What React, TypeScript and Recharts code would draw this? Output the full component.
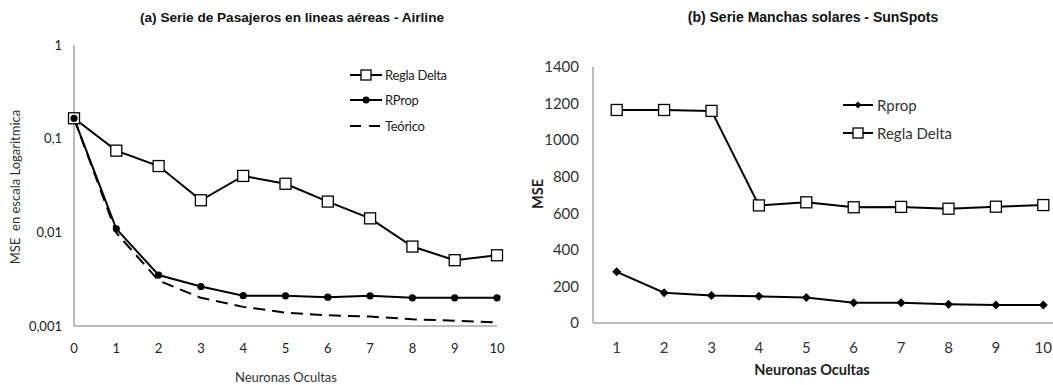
import React from 'react';
import { LineChart, Line, XAxis, YAxis, Legend } from 'recharts';

// ---- Chart (a): Airline (log scale) ----
const neuronsA = [0, 1, 2, 3, 4, 5, 6, 7, 8, 9, 10];
const reglaDeltaA = [0.165, 0.0745, 0.051, 0.022, 0.04, 0.033, 0.0213, 0.0141, 0.00705, 0.00504, 0.00569];
const rpropA = [0.165, 0.0109, 0.0035, 0.00264, 0.00211, 0.0021, 0.00203, 0.0021, 0.002, 0.002, 0.002];
const teoricoA = [0.165, 0.0099, 0.00305, 0.002, 0.0016, 0.00139, 0.0013, 0.00126, 0.00118, 0.00114, 0.00109];
const yTicksA = [0.001, 0.01, 0.1, 1];

// ---- Chart (b): SunSpots ----
const neuronsB = [1, 2, 3, 4, 5, 6, 7, 8, 9, 10];
const rpropB = [280, 166, 151, 146, 139, 111, 111, 102, 98, 98];
const reglaDeltaB = [1165, 1165, 1160, 643, 660, 633, 635, 625, 636, 645];
const yTicksB = [0, 200, 400, 600, 800, 1000, 1200, 1400];

const dataA = neuronsA.map((x, i) => ({ x, delta: reglaDeltaA[i], rprop: rpropA[i], teo: teoricoA[i] }));
const dataB = neuronsB.map((x, i) => ({ x, rprop: rpropB[i], delta: reglaDeltaB[i] }));

const makeSquare = (size: number) => (props: any) => {
  const { cx, cy, index } = props;
  if (cx == null || cy == null) return <g key={`s${index}`} />;
  return (
    <rect key={`s${index}`} x={cx - size / 2} y={cy - size / 2} width={size} height={size}
      fill="#fff" stroke="#000" strokeWidth={1.3} />
  );
};
const makeCircle = (r: number) => (props: any) => {
  const { cx, cy, index } = props;
  if (cx == null || cy == null) return <g key={`c${index}`} />;
  return <circle key={`c${index}`} cx={cx} cy={cy} r={r} fill="#000" />;
};
const makeDiamond = (r: number) => (props: any) => {
  const { cx, cy, index } = props;
  if (cx == null || cy == null) return <g key={`d${index}`} />;
  return <polygon key={`d${index}`} points={`${cx},${cy - r} ${cx + r},${cy} ${cx},${cy + r} ${cx - r},${cy}`} fill="#000" />;
};

const legendA = () => (
  <div style={{ fontFamily: 'Lato', fontSize: 13, color: '#222' }}>
    {[
      { name: 'Regla Delta', kind: 'square' },
      { name: 'RProp', kind: 'circle' },
      { name: 'Teórico', kind: 'dash' },
    ].map((it) => (
      <div key={it.name} style={{ display: 'flex', alignItems: 'center', height: 25.5 }}>
        <svg width={35} height={14} style={{ display: 'block' }}>
          {it.kind === 'dash' ? (
            <line x1={0} y1={7} x2={32} y2={7} stroke="#000" strokeWidth={2} strokeDasharray="11 8" />
          ) : (
            <line x1={0} y1={7} x2={32} y2={7} stroke="#000" strokeWidth={2} />
          )}
          {it.kind === 'square' && <rect x={11} y={2} width={10} height={10} fill="#fff" stroke="#000" strokeWidth={1.3} />}
          {it.kind === 'circle' && <circle cx={16} cy={7} r={3.5} fill="#000" />}
        </svg>
        <span style={{ letterSpacing: -0.3 }}>{it.name}</span>
      </div>
    ))}
  </div>
);

const legendB = () => (
  <div style={{ fontFamily: 'Lato', fontSize: 15, color: '#333' }}>
    {[
      { name: 'Rprop', kind: 'diamond' },
      { name: 'Regla Delta', kind: 'square' },
    ].map((it) => (
      <div key={it.name} style={{ display: 'flex', alignItems: 'center', height: 28 }}>
        <svg width={34} height={14} style={{ display: 'block' }}>
          <line x1={0} y1={7} x2={30} y2={7} stroke="#000" strokeWidth={2} />
          {it.kind === 'square' && <rect x={10} y={2} width={10} height={10} fill="#fff" stroke="#000" strokeWidth={1.3} />}
          {it.kind === 'diamond' && <polygon points="15,3.5 18.5,7 15,10.5 11.5,7" fill="#000" />}
        </svg>
        <span>{it.name}</span>
      </div>
    ))}
  </div>
);

const abs = (extra: React.CSSProperties): React.CSSProperties => ({ position: 'absolute', whiteSpace: 'nowrap', ...extra });

export default function App() {
  return (
    <div style={{ position: 'absolute', left: 0, top: 0, width: 1053, height: 385, overflow: 'hidden', background: '#fff', fontFamily: 'Lato' }}>
      {/* Chart (a) */}
      <div style={abs({ left: 0, top: 0 })}>
        <LineChart width={530} height={385} data={dataA} margin={{ top: 45, right: 33, left: 14, bottom: 29 }}>
          <XAxis dataKey="x" type="number" domain={[0, 10]} ticks={neuronsA} height={30}
            axisLine={{ stroke: '#a6a6a6', strokeWidth: 1.5 }} tickLine={false} tickMargin={12}
            tick={{ fill: '#222', fontSize: 13, fontFamily: 'Lato' }} />
          <YAxis type="number" scale="log" domain={[0.001, 1]} ticks={yTicksA} width={60} allowDataOverflow
            axisLine={{ stroke: '#a6a6a6', strokeWidth: 1.5 }} tickLine={false} tickMargin={6}
            tickFormatter={(v: number) => String(v).replace('.', ',')}
            tick={{ fill: '#222', fontSize: 13, fontFamily: 'Lato' }} />
          <Legend layout="vertical" align="center" verticalAlign="middle" content={legendA}
            wrapperStyle={{ left: 350, top: 62, width: 'auto' }} />
          <Line dataKey="delta" name="Regla Delta" stroke="#000" strokeWidth={2} dot={makeSquare(11)} activeDot={false} isAnimationActive={false} />
          <Line dataKey="teo" name="Teórico" stroke="#000" strokeWidth={2} strokeDasharray="12 7" dot={false} activeDot={false} isAnimationActive={false} />
          <Line dataKey="rprop" name="RProp" stroke="#000" strokeWidth={2} dot={makeCircle(3.6)} activeDot={false} isAnimationActive={false} />
        </LineChart>
      </div>
      <div style={abs({ left: 292, top: 17, transform: 'translate(-50%,-50%)', fontFamily: 'Liberation Sans', fontWeight: 'bold', fontSize: 13.6, color: '#111' })}>
        (a) Serie de Pasajeros en lineas aéreas - Airline
      </div>
      <div style={abs({ left: 286, top: 377, transform: 'translate(-50%,-50%)', fontSize: 13, color: '#333' })}>
        Neuronas Ocultas
      </div>
      <div style={abs({ left: 15, top: 187, transform: 'translate(-50%,-50%) rotate(-90deg)', fontSize: 13, color: '#333' })}>
        MSE&nbsp; en escala Logaritmica
      </div>

      {/* Chart (b) */}
      <div style={abs({ left: 530, top: 0 })}>
        <LineChart width={560} height={385} data={dataB} margin={{ top: 67, right: 23, left: 3, bottom: 32 }}>
          <XAxis dataKey="x" type="number" domain={[0.5, 10.5]} ticks={neuronsB} height={30}
            axisLine={{ stroke: '#a6a6a6', strokeWidth: 1.5 }} tickLine={false} tickMargin={13}
            tick={{ fill: '#333', fontSize: 15, fontFamily: 'Lato' }} />
          <YAxis type="number" domain={[0, 1400]} ticks={yTicksB} width={60}
            axisLine={{ stroke: '#a6a6a6', strokeWidth: 1.5 }} tickLine={false} tickMargin={8}
            tick={{ fill: '#333', fontSize: 15, fontFamily: 'Lato' }} />
          <Legend layout="vertical" align="center" verticalAlign="middle" content={legendB}
            wrapperStyle={{ left: 313, top: 91, width: 'auto' }} />
          <Line dataKey="delta" name="Regla Delta" stroke="#000" strokeWidth={2} dot={makeSquare(11)} activeDot={false} isAnimationActive={false} />
          <Line dataKey="rprop" name="Rprop" stroke="#000" strokeWidth={2} dot={makeDiamond(4.5)} activeDot={false} isAnimationActive={false} />
        </LineChart>
      </div>
      <div style={abs({ left: 813, top: 17, transform: 'translate(-50%,-50%)', fontFamily: 'Liberation Sans', fontWeight: 'bold', fontSize: 14, color: '#111' })}>
        (b) Serie Manchas solares - SunSpots
      </div>
      <div style={abs({ left: 812, top: 369, transform: 'translate(-50%,-50%)', fontSize: 14.5, fontWeight: 'bold', color: '#222' })}>
        Neuronas Ocultas
      </div>
      <div style={abs({ left: 537, top: 194, transform: 'translate(-50%,-50%) rotate(-90deg)', fontSize: 14.5, fontWeight: 'bold', color: '#222' })}>
        MSE
      </div>
    </div>
  );
}
